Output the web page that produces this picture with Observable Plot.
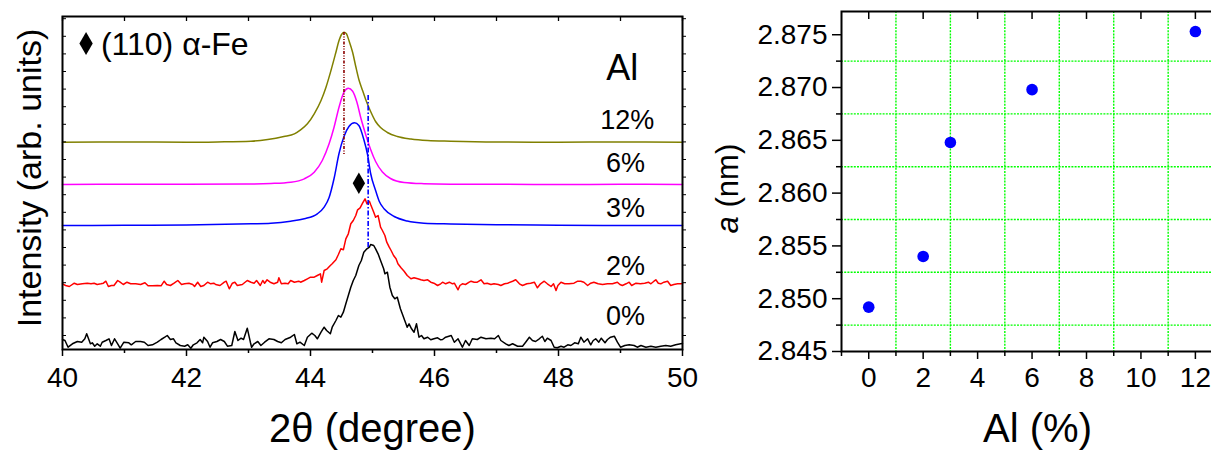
<!DOCTYPE html>
<html><head><meta charset="utf-8">
<script src="https://cdn.jsdelivr.net/npm/d3@7"></script>
<script src="https://cdn.jsdelivr.net/npm/@observablehq/plot@0.6"></script>
<style>
html,body{margin:0;padding:0;background:#fff;overflow:hidden;}
#wrap{position:relative;width:1211px;height:450px;overflow:hidden;background:#fff;}
#left{position:absolute;left:0;top:0;width:700px;height:450px;}
#right{position:absolute;left:700px;top:0;width:533px;height:450px;}
#wrap svg{max-width:none !important;display:block;}
</style></head>
<body><div id="wrap"><div id="left"></div><div id="right"></div></div>
<script>
// ---------- Left panel: XRD patterns (2θ in degrees, stacked intensity in arb. units) ----------
const theta0 = [40.00,40.04,40.09,40.16,40.24,40.31,40.36,40.39,40.45,40.48,40.52,40.56,40.61,40.64,40.70,40.75,40.79,40.84,40.89,40.93,40.99,41.07,41.11,41.18,41.26,41.32,41.38,41.45,41.53,41.59,41.65,41.69,41.74,41.79,41.83,41.90,41.97,42.02,42.07,42.11,42.17,42.22,42.26,42.28,42.34,42.38,42.42,42.49,42.55,42.61,42.66,42.73,42.78,42.83,42.88,42.92,42.98,43.03,43.05,43.09,43.15,43.20,43.26,43.33,43.41,43.47,43.53,43.59,
43.68,43.74,43.78,43.83,43.90,43.95,44.02,44.07,44.11,44.17,44.22,44.26,44.32,44.35,44.41,44.45,44.49,44.53,44.57,44.61,44.65,44.69,44.73,44.78,44.82,44.86,44.91,44.95,44.97,45.02,45.05,45.09,45.13,45.18,45.20,45.24,45.28,45.32,45.36,45.40,45.45,45.48,45.52,45.56,45.59,45.63,45.67,45.71,45.75,45.79,45.83,45.89,45.94,45.99,46.05,46.10,
46.13,46.18,46.27,46.32,46.38,46.45,46.50,46.56,46.61,46.69,46.75,46.83,46.91,46.97,47.03,47.07,47.15,47.20,47.26,47.34,47.42,47.47,47.53,47.58,47.63,47.69,47.74,47.78,47.82,47.88,47.93,47.98,48.04,48.09,48.15,48.20,48.26,48.32,48.36,48.41,48.47,48.52,48.56,48.60,48.65,48.69,48.75,48.79,48.84,48.90,48.95,49.00,49.07,49.14,49.22,49.27,49.33,49.41,49.49,49.57,49.65,49.73,49.81,49.89,49.97,50.00];
const int0 = [9,8,1.3,4.7,7,6.3,9.7,14.7,4.7,5.7,2.3,4.7,2.3,6.3,8,9.7,3,9.7,4.7,0.3,6.3,5.7,3.7,7,7,6.3,3,3.7,6.3,9,11.3,13,9,9.7,5.7,3,2.3,3.7,0.3,3.7,5.7,9,5.7,11.3,7,1.3,5.7,7,9,7,2.3,3,17,8,10.3,9,20.3,6.3,1.3,4.7,7,3,6.3,9.7,9,7,5.7,9,
11.3,14,4.7,6.3,3,11.3,15.3,13,9.7,16.3,21.3,18,14.7,21.3,28,33,31.3,36.3,44.7,53,61.3,68,73,83,88,96.3,99.7,101.3,104,103,99.7,94.7,88,79.7,74.7,76.3,61.3,53,49.7,51.3,39.7,34.7,28,21.3,24.7,19.7,16.3,24.7,11.3,13,9.7,11.3,8.7,9.7,10.7,8.7,
9,11.3,13,6.3,9.7,1.3,8,3,9.7,9,11.3,9.7,10.3,9.7,13,8,4.7,3,4.7,2.3,2.3,6.3,11.3,8,7,9.7,12.3,7,10.3,8,1.3,0.7,2.3,1.3,3.7,3,5.7,4.7,11.3,6.3,9.7,3.7,8,9.7,6.3,10.3,5.7,9,11.3,12.3,6.3,1.3,3,3.7,3,1.3,3,1.3,2.3,1.3,2.3,3,2.3,3.7,4.7,5];

const theta2 = [40.00,40.05,40.11,40.19,40.24,40.32,40.40,40.46,40.51,40.56,40.62,40.66,40.70,40.74,40.79,40.83,40.89,40.93,40.98,41.04,41.10,41.18,41.26,41.33,41.38,41.45,41.53,41.59,41.64,41.68,41.74,41.80,41.86,41.92,41.97,42.04,42.10,42.13,42.18,42.23,42.28,42.34,42.39,42.44,42.47,42.54,42.61,42.64,42.69,42.74,42.78,42.82,42.90,42.98,43.04,43.09,43.13,43.19,43.23,43.26,43.30,43.35,43.41,43.47,43.49,43.53,43.59,43.64,
43.68,43.74,43.81,43.84,43.90,43.95,44.00,44.06,44.11,44.16,44.18,44.22,44.27,44.32,44.35,44.41,44.45,44.49,44.53,44.57,44.61,44.65,44.69,44.73,44.76,44.80,44.84,44.88,44.91,44.95,44.97,45.02,45.05,45.09,45.13,45.16,45.20,45.23,45.27,45.30,45.34,45.38,45.41,45.46,45.51,45.56,45.62,45.67,45.73,45.78,45.83,45.89,45.94,45.99,46.05,46.10,
46.13,46.18,46.24,46.29,46.32,46.38,46.41,46.45,46.50,46.56,46.59,46.64,46.69,46.75,46.80,46.85,46.91,46.96,47.03,47.07,47.13,47.18,47.26,47.31,47.37,47.42,47.49,47.55,47.61,47.66,47.71,47.77,47.82,47.88,47.92,47.96,47.99,48.04,48.10,48.17,48.25,48.31,48.36,48.41,48.47,48.52,48.57,48.64,48.71,48.79,48.87,48.95,48.99,49.03,49.09,49.14,49.18,49.25,49.32,49.39,49.45,49.49,49.54,49.57,49.61,49.65,49.70,49.76,49.81,49.86,49.92,49.97,50.00];
const int2 = [64.7,63,62,65.3,64,64.7,65.3,64.7,65.3,64,64.7,65.3,67.3,62,63,63,68,66.3,64,66.3,64.7,64.7,64,65.7,62.7,62.7,63,62.7,67.3,64,63,65.3,68,64,64.7,65.3,64,62,66.3,62,63,66.3,64.7,65.3,64,63,66.3,67.3,59.7,65.3,66.3,63,64,68,66.3,65.3,68,63,68,65.3,68.7,66.3,64.7,66.3,70.7,64.7,65.3,64.7,
68,66.3,67.3,66.3,68,69.7,71.3,71.3,73,74.7,66.3,78,79.7,83,84.7,88.7,94,99.7,98.7,109.7,114.7,124.7,128,133,138.7,140.7,145.3,149.7,144.7,147.3,144,136.3,131.3,133,121.3,118,113,106.3,101.3,98,93,89.7,84.7,80.7,77.3,73,69.7,70.7,69.7,68.7,68,68.7,66.3,65.3,63,64.7,
66.3,64.7,66.3,64.7,65.3,58.7,63,64.7,64,66.3,67.3,66.3,66.3,68.7,64.7,65.3,64,64.7,64,63,64.7,65.3,67.3,68.7,64.7,63,64.7,65.3,66.3,60.7,64.7,67.3,64.7,62,64.7,58,63,66.3,64.7,64.7,65.3,67.3,67.3,66.3,63,65.3,66.3,64.7,64,64.7,64.7,66.3,64,63,64.7,66.3,63,65.3,64.7,65.3,66.3,64.7,67.3,68.7,65.3,64.7,66.3,67.3,63,64,64.7,64.7,65];

const theta3 = [40.0,41.0,42.0,43.04,43.36,43.68,43.90,44.11,44.22,44.30,44.38,44.46,44.54,44.62,44.71,44.78,44.86,44.92,44.97,45.05,45.11,45.19,45.35,45.56,45.83,46.26,47.0,48.0,49.0,50.0];
const int3 = [123,123.2,123.5,124.7,125.3,127.3,129.7,134.7,141.3,151,170,195,212,222,225.7,223,209,194,175,158,147,139.5,132,127.5,125.3,124.5,123.8,123.3,123,123];

const theta6 = [40.0,41.0,42.0,43.04,43.36,43.68,43.90,44.06,44.19,44.30,44.38,44.46,44.54,44.61,44.68,44.75,44.81,44.89,44.97,45.05,45.16,45.29,45.51,45.83,46.26,47.0,48.0,49.0,50.0];
const int6 = [164,164.2,164.2,164.5,165,166.3,169.7,176.3,188,204.7,221.3,241.3,256.3,260.3,257.3,246,231,214,199,187,176.5,170,166,164.8,164.3,164.2,164,164.2,164];

const theta12 = [40.0,41.0,42.0,42.5,43.04,43.31,43.57,43.74,43.84,43.95,44.06,44.17,44.25,44.33,44.41,44.46,44.50,44.54,44.58,44.62,44.68,44.73,44.78,44.84,44.89,44.97,45.05,45.13,45.24,45.40,45.62,45.89,46.26,47.0,48.0,49.0,50.0];
const int12 = [206.3,206.5,206.3,206.6,207.3,209,212,214.7,218.7,224.7,234.7,248,261.3,278,296.3,308,314,316.3,314.7,308,296,282,269,258,249,237,227,221,216,212,209.5,208,207.3,206.5,206.3,206.5,206.3];

const seriesNames  = ["0%", "2%", "3%", "6%", "12%"];
const seriesTheta  = [theta0, theta2, theta3, theta6, theta12];
const seriesInt    = [int0, int2, int3, int6, int12];

// peak-position guide lines (2θ, top and bottom intensity)
const guideTheta = [44.54, 44.93];
const guideTop   = [316, 253];
const guideBot   = [193, 101];

// (110) α-Fe marker on the pattern
const markerTheta = [44.78];
const markerInt   = [165.3];

// ---------- Right panel: lattice parameter vs Al content ----------
const alContent = [0, 2, 3, 6, 12];
const latticeA  = [2.8492, 2.8540, 2.8648, 2.8698, 2.8753];

const xTicksLeft  = [40, 42, 44, 46, 48, 50];
const xTicksRight = [0, 2, 4, 6, 8, 10, 12];
const yTicksRight = [2.845, 2.850, 2.855, 2.860, 2.865, 2.870, 2.875];
const xGridRight  = [1, 3, 5, 7, 9, 11, 13];
const yGridRight  = [2.8475, 2.8525, 2.8575, 2.8625, 2.8675, 2.8725];

// ---------- styling / layout (not data) ----------
const FONT = "'Liberation Sans', Arial, Helvetica, sans-serif";
const colors = ["#000000", "#ff0000", "#0000ff", "#ff00ff", "#808000"];
const curves = ["linear", "linear", "monotone-x", "monotone-x", "monotone-x"];
const labelPos = {theta: [49.08, 49.08, 49.08, 49.08, 49.11], level: [32.2, 81.7, 140.2, 184.7, 227.7]};

const lines = seriesNames.map((name, k) =>
  Plot.line(seriesInt[k], {x: seriesTheta[k], y: seriesInt[k], stroke: colors[k], strokeWidth: 1.5, curve: curves[k]})
);

const leftPlot = Plot.plot({
  width: 700, height: 450,
  marginLeft: 62, marginRight: 18, marginTop: 16, marginBottom: 101,
  style: {fontFamily: FONT, background: "white", color: "black", overflow: "visible", maxWidth: "none"},
  x: {domain: [40, 50], axis: null, label: null},
  y: {domain: [-1, 332], axis: null, label: null},
  marks: [
    ...lines,
    Plot.ruleX([0], {x: guideTheta[0], y1: guideTop[0], y2: guideBot[0], stroke: "#8b0000", strokeWidth: 1.6, strokeDasharray: "3,1.5,1,1.5,1,1.5"}),
    Plot.ruleX([0], {x: guideTheta[1], y1: guideTop[1], y2: guideBot[1], stroke: "#0000ff", strokeWidth: 1.6, strokeDasharray: "5,2,1.5,2"}),
    Plot.dot(markerTheta, {x: markerTheta, y: markerInt, symbol: "diamond", r: 6.5, fill: "black"}),
    Plot.dot([0], {x: 40.38, y: 305, symbol: "diamond", r: 7, fill: "black"}),
    Plot.text(["(110) α-Fe"], {x: 40.62, y: 304, text: d => d, textAnchor: "start", fontSize: 32}),
    Plot.text(["Al"], {x: 49.03, y: 279.7, text: d => d, fontSize: 36}),
    Plot.text(seriesNames, {x: labelPos.theta, y: labelPos.level, text: d => d, fontSize: 27}),
    Plot.frame({stroke: "black", strokeWidth: 2}),
    Plot.axisX({ticks: xTicksLeft, tickSize: 7, tickPadding: 11, fontSize: 28, strokeWidth: 1.5, label: null, tickFormat: d => String(d)}),
    Plot.axisX({ticks: d3.range(41, 50, 2), tickSize: 4, strokeWidth: 1.5, label: null, tickFormat: () => ""}),
    Plot.ruleX(d3.range(40, 51), {y1: 332, y2: 327, strokeWidth: 1.3}),
    Plot.ruleY(d3.range(13, 330, 17.6), {x1: 40, x2: 40 + 4 / 62, strokeWidth: 1}),
    Plot.ruleY(d3.range(13, 330, 17.6), {x1: 50, x2: 50 + 4 / 62, strokeWidth: 1}),
    Plot.text(["2θ (degree)"], {frameAnchor: "bottom", text: d => d, lineAnchor: "middle", textAnchor: "middle", dy: 80, fontSize: 40}),
    Plot.text(["Intensity (arb. units)"], {frameAnchor: "left", text: d => d, rotate: -90, textAnchor: "middle", lineAnchor: "middle", dx: -32, dy: -5, fontSize: 34})
  ]
});
document.getElementById("left").appendChild(leftPlot);

const yDom = [2.845, 2.8772];
const yPerPx = (yDom[1] - yDom[0]) / 340;
const rightPlot = Plot.plot({
  width: 533, height: 450,
  marginLeft: 141, marginRight: 0, marginTop: 11, marginBottom: 99,
  style: {fontFamily: FONT, background: "white", color: "black", overflow: "visible", maxWidth: "none"},
  x: {domain: [-1, 13.4], axis: null, label: null},
  y: {domain: yDom, axis: null, label: null},
  marks: [
    Plot.ruleX(xGridRight, {stroke: "#00ff00", strokeWidth: 1.4, strokeDasharray: "2,1.2"}),
    Plot.ruleY(yGridRight, {stroke: "#00ff00", strokeWidth: 1.4, strokeDasharray: "2,1.2"}),
    Plot.dot(latticeA, {x: alContent, y: latticeA, r: 5.8, fill: "#0000ff"}),
    Plot.frame({stroke: "black", strokeWidth: 2}),
    Plot.axisX({ticks: xTicksRight, tickSize: 8, tickPadding: 8, fontSize: 28, strokeWidth: 1.5, label: null, tickFormat: d => String(d)}),
    Plot.axisX({ticks: d3.range(-1, 14, 2), tickSize: 5, strokeWidth: 1.5, label: null, tickFormat: () => ""}),
    Plot.ruleX(xTicksRight, {y1: yDom[1], y2: yDom[1] - 8 * yPerPx, strokeWidth: 1.5}),
    Plot.axisY({ticks: yTicksRight, tickSize: 9, tickPadding: 5, fontSize: 28, strokeWidth: 1.5, label: null, tickFormat: ".3f"}),
    Plot.axisY({ticks: yGridRight, tickSize: 5, strokeWidth: 1.5, label: null, tickFormat: () => ""}),
    Plot.text(["a"], {frameAnchor: "left", text: d => d, rotate: -90, textAnchor: "start", lineAnchor: "middle", dx: -113, dy: 52, fontSize: 31, fontStyle: "italic"}),
    Plot.text(["(nm)"], {frameAnchor: "left", text: d => d, rotate: -90, textAnchor: "start", lineAnchor: "middle", dx: -113, dy: 26, fontSize: 31}),
    Plot.text(["Al (%)"], {frameAnchor: "bottom", text: d => d, lineAnchor: "middle", textAnchor: "middle", dy: 78, fontSize: 40})
  ]
});
document.getElementById("right").appendChild(rightPlot);
</script>
</body></html>
